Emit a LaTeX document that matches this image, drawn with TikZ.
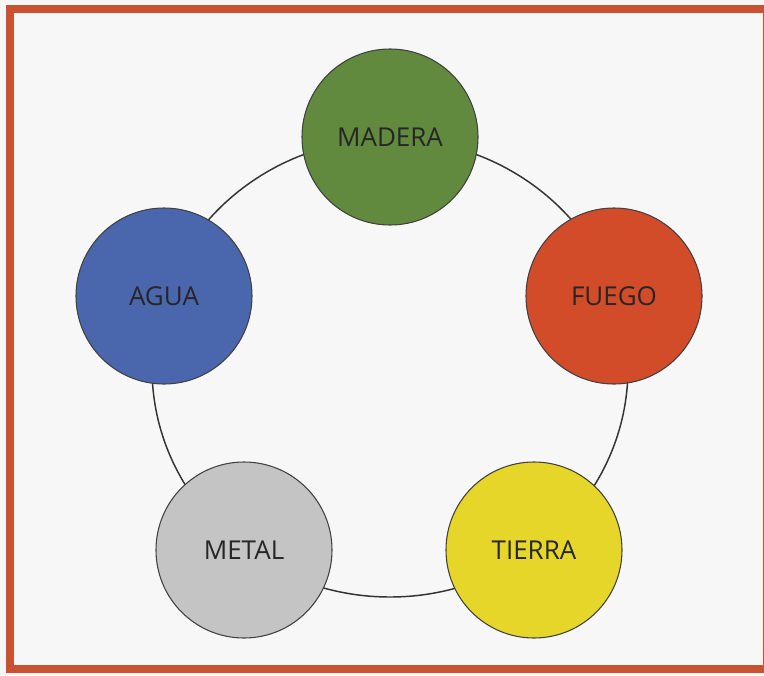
\documentclass[tikz,border=0pt]{standalone}
\usepackage{fontspec}
\setmainfont{Open Sans}
\begin{document}
\begin{tikzpicture}[x=0.75pt,y=-0.75pt,
  elem/.style={circle, draw=black!75, line width=0.8pt, minimum size=176*0.75pt, inner sep=0pt,
    font=\fontsize{19.5}{22}\selectfont, text=black!85},
  ring/.style={draw=black!80, line width=1.1pt}]
\useasboundingbox (0,0) rectangle (764,675);
\fill[gray!6] (0,0) rectangle (764,675);
\draw[color={rgb,255:red,201;green,82;blue,48}, line width=6pt] (10,9) rectangle (767,669);
\draw[ring] (390,368) ellipse [x radius=238, y radius=229];
\node[elem, fill={rgb,255:red,98;green,138;blue,62}] (madera) at (390,137) {MADERA};
\node[elem, fill={rgb,255:red,210;green,76;blue,42}] (fuego) at (614,296) {FUEGO};
\node[elem, fill={rgb,255:red,74;green,102;blue,172}] (agua) at (164,296) {AGUA};
\node[elem, fill={rgb,255:red,196;green,196;blue,196}] (metal) at (244,550) {METAL};
\node[elem, fill={rgb,255:red,230;green,214;blue,42}] (tierra) at (534,550) {TIERRA};
\end{tikzpicture}
\end{document}
